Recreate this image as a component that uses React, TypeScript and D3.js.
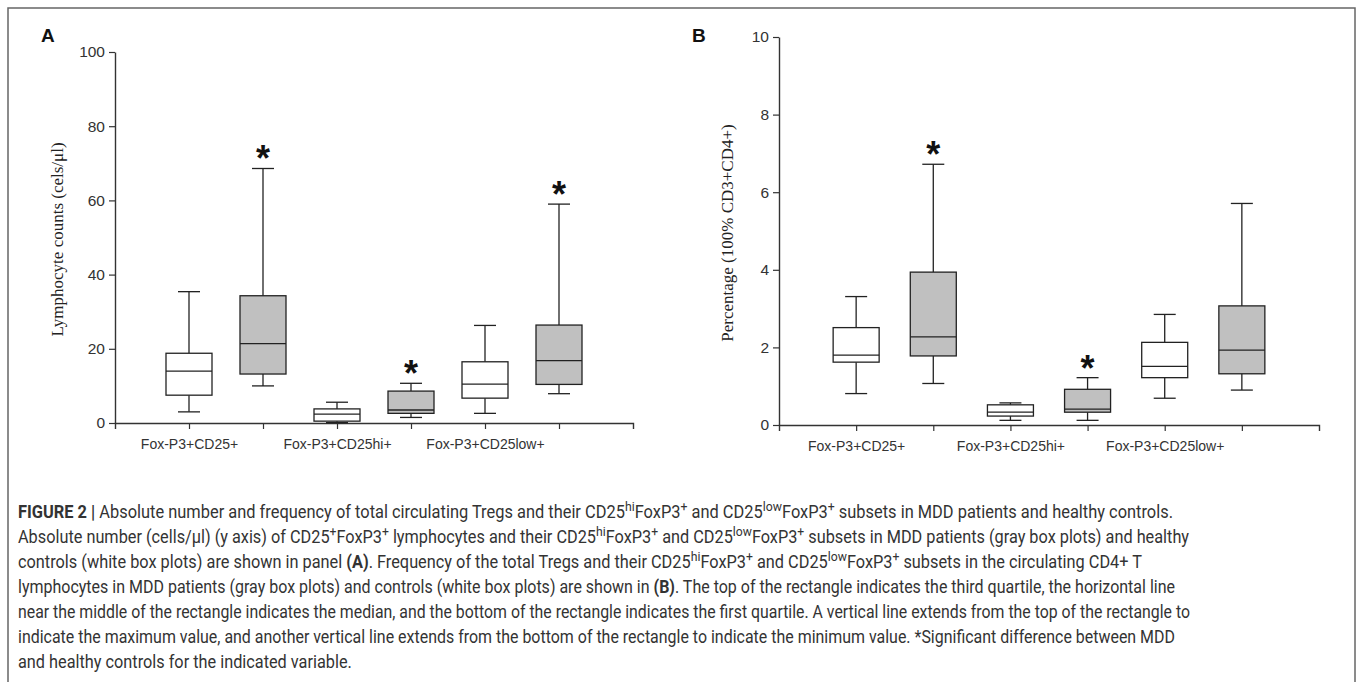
import React, { useEffect, useLayoutEffect, useRef, useState } from "react";
import * as d3 from "d3";

// boxes go control, MDD, control, MDD, control, MDD
const categories = ["Fox-P3+CD25+", "Fox-P3+CD25hi+", "Fox-P3+CD25low+"];
const cohorts = ["control", "MDD"];

// panel A: absolute counts (cells/µl)
const countMax = [35.4, 68.6, 5.6, 10.7, 26.3, 59.0];
const countQ3 = [18.8, 34.3, 3.8, 8.6, 16.5, 26.4];
const countMedian = [14.0, 21.4, 2.4, 3.5, 10.5, 16.8];
const countQ1 = [7.5, 13.2, 0.5, 2.6, 6.7, 10.4];
const countMin = [3.0, 10.0, 0.1, 1.5, 2.6, 7.9];
const countSignificant = [false, true, false, true, false, true];
const countTicks = [0, 20, 40, 60, 80, 100];

// panel B: percentage of CD3+CD4+
const pctMax = [3.31, 6.72, 0.57, 1.22, 2.85, 5.71];
const pctQ3 = [2.51, 3.94, 0.52, 0.92, 2.13, 3.07];
const pctMedian = [1.8, 2.27, 0.33, 0.41, 1.51, 1.93];
const pctQ1 = [1.62, 1.78, 0.23, 0.33, 1.22, 1.32];
const pctMin = [0.81, 1.07, 0.12, 0.12, 0.69, 0.9];
const pctSignificant = [false, true, false, true, false, false];
const pctTicks = [0, 2, 4, 6, 8, 10];

const captionLines = [
  "**FIGURE 2 |** Absolute number and frequency of total circulating Tregs and their CD25^{hi}FoxP3^{+} and CD25^{low}FoxP3^{+} subsets in MDD patients and healthy controls.",
  "Absolute number (cells/\u03bcl) (y axis) of CD25^{+}FoxP3^{+} lymphocytes and their CD25^{hi}FoxP3^{+} and CD25^{low}FoxP3^{+} subsets in MDD patients (gray box plots) and healthy",
  "controls (white box plots) are shown in panel **(A)**. Frequency of the total Tregs and their CD25^{hi}FoxP3^{+} and CD25^{low}FoxP3^{+} subsets in the circulating CD4+ T",
  "lymphocytes in MDD patients (gray box plots) and controls (white box plots) are shown in **(B)**. The top of the rectangle indicates the third quartile, the horizontal line",
  "near the middle of the rectangle indicates the median, and the bottom of the rectangle indicates the first quartile. A vertical line extends from the top of the rectangle to",
  "indicate the maximum value, and another vertical line extends from the bottom of the rectangle to indicate the minimum value. *Significant difference between MDD",
  "and healthy controls for the indicated variable.",
];
// right end of each wrapped caption line (last line is left ragged)
const captionEnds = [1173, 1190, 1142, 1175, 1190, 1175, null];

const SANS = "'Liberation Sans', Arial, sans-serif";
const SERIF = "'Liberation Serif', 'Times New Roman', serif";

const panels = [
  {
    letter: "A", letterX: 41, yLabel: "Lymphocyte counts (cels/\u03bcl)", labelX: 63,
    left: 115, right: 633, top: 52, bottom: 423, ticks: countTicks,
    max: countMax, q3: countQ3, med: countMedian, q1: countQ1, min: countMin, sig: countSignificant,
  },
  {
    letter: "B", letterX: 692, yLabel: "Percentage (100% CD3+CD4+)", labelX: 733,
    left: 779, right: 1319, top: 37, bottom: 425, ticks: pctTicks,
    max: pctMax, q3: pctQ3, med: pctMedian, q1: pctQ1, min: pctMin, sig: pctSignificant,
  },
];

function drawPanel(g: d3.Selection<SVGGElement, unknown, null, undefined>, p: typeof panels[0]) {
  const idx = d3.range(p.max.length);
  const x = d3.scalePoint<number>().domain(idx).range([p.left, p.right]).padding(1);
  const y = d3.scaleLinear().domain([0, p.ticks[p.ticks.length - 1]]).range([p.bottom, p.top]);

  const xAxis = g.append("g")
    .attr("transform", `translate(0,${p.bottom})`)
    .call(d3.axisBottom(x).tickSize(6).tickSizeOuter(6).tickPadding(10)
      .tickFormat((i) => (i % 2 === 0 ? categories[i / 2] : "")));
  const yAxis = g.append("g")
    .attr("transform", `translate(${p.left},0)`)
    .call(d3.axisLeft(y).tickValues(p.ticks).tickSize(6).tickSizeOuter(0).tickPadding(4));

  [xAxis, yAxis].forEach((a) => {
    a.select(".domain").attr("stroke", "#333").attr("stroke-width", 1.4);
    a.selectAll(".tick line").attr("stroke", "#333").attr("stroke-width", 1.2);
    a.selectAll(".tick text").attr("fill", "#333").attr("font-family", SANS);
  });
  xAxis.selectAll(".tick text").attr("font-size", 14);
  yAxis.selectAll(".tick text").attr("font-size", 15.5);

  const bw = 46, cw = 22;
  const box = g.append("g").attr("stroke", "#222").attr("stroke-width", 1.3);
  idx.forEach((i) => {
    const cx = x(i)!;
    const filled = cohorts[i % 2] === "MDD";
    // whiskers and caps
    box.append("line").attr("x1", cx).attr("x2", cx).attr("y1", y(p.max[i])).attr("y2", y(p.q3[i]));
    box.append("line").attr("x1", cx).attr("x2", cx).attr("y1", y(p.q1[i])).attr("y2", y(p.min[i]));
    box.append("line").attr("x1", cx - cw / 2).attr("x2", cx + cw / 2).attr("y1", y(p.max[i])).attr("y2", y(p.max[i]));
    box.append("line").attr("x1", cx - cw / 2).attr("x2", cx + cw / 2).attr("y1", y(p.min[i])).attr("y2", y(p.min[i]));
    box.append("rect")
      .attr("x", cx - bw / 2).attr("width", bw)
      .attr("y", y(p.q3[i])).attr("height", y(p.q1[i]) - y(p.q3[i]))
      .attr("fill", filled ? "#c0c0c0" : "#fff");
    box.append("line").attr("x1", cx - bw / 2).attr("x2", cx + bw / 2).attr("y1", y(p.med[i])).attr("y2", y(p.med[i]));
    if (p.sig[i]) {
      g.append("text").attr("x", cx).attr("y", y(p.max[i]) + 3)
        .attr("text-anchor", "middle").attr("font-family", SANS).attr("font-weight", "bold")
        .attr("font-size", 36).attr("fill", "#111").text("*");
    }
  });

  g.append("text")
    .attr("transform", `translate(${p.labelX},${(p.top + p.bottom) / 2 + 2}) rotate(-90)`)
    .attr("text-anchor", "middle").attr("font-family", SERIF).attr("font-size", 17).attr("fill", "#222")
    .text(p.yLabel);
  g.append("text").attr("x", p.letterX).attr("y", 42)
    .attr("font-family", SANS).attr("font-weight", "bold").attr("font-size", 19).attr("fill", "#111")
    .text(p.letter);
}

function parseLine(s: string) {
  return s.split(/(\*\*[^*]+\*\*|\^\{[^}]+\})/).filter(Boolean).map((part) => {
    if (part.startsWith("**")) return { t: part.slice(2, -2), kind: "b" };
    if (part.startsWith("^{")) return { t: part.slice(2, -1), kind: "sup" };
    return { t: part, kind: "n" };
  });
}

export default function App() {
  const chartRef = useRef<SVGGElement>(null);
  const measureRef = useRef<SVGTextElement>(null);
  const [k, setK] = useState(1);

  useEffect(() => {
    const g = d3.select(chartRef.current!);
    g.selectAll("*").remove();
    panels.forEach((p) => drawPanel(g.append("g"), p));
  }, []);

  // horizontal squeeze so the caption reads like the narrow journal face
  useLayoutEffect(() => {
    if (!measureRef.current) return;
    const len = measureRef.current.getComputedTextLength();
    if (len > 0) setK(1172 / len);
  }, []);

  return (
    <svg width={1357} height={682} style={{ position: "absolute", left: 0, top: 0, background: "#fff" }}>
      <rect x={8} y={8} width={1347} height={700} fill="none" stroke="#666" strokeWidth={1.5} />
      <g ref={chartRef} />
      <g transform={`translate(18,0) scale(${k},1)`} fontFamily="'Liberation Sans Narrow', 'Roboto', sans-serif" fontSize={18} fill="#333">
        {captionLines.map((line, li) => {
          const end = captionEnds[li];
          const fit = end != null && k !== 1 ? { textLength: (end - 18) / k, lengthAdjust: "spacingAndGlyphs" } : {};
          return (
            <text key={li} x={0} y={518 + li * 25} ref={li === 1 ? measureRef : undefined} {...(li === 1 ? {} : fit)}>
              {parseLine(line).map((s, si) =>
                s.kind === "b" ? (
                  <tspan key={si} fontWeight="bold">{s.t}</tspan>
                ) : s.kind === "sup" ? (
                  <tspan key={si} fontSize="75%" baselineShift="super">{s.t}</tspan>
                ) : (
                  <tspan key={si}>{s.t}</tspan>
                )
              )}
            </text>
          );
        })}
      </g>
    </svg>
  );
}
